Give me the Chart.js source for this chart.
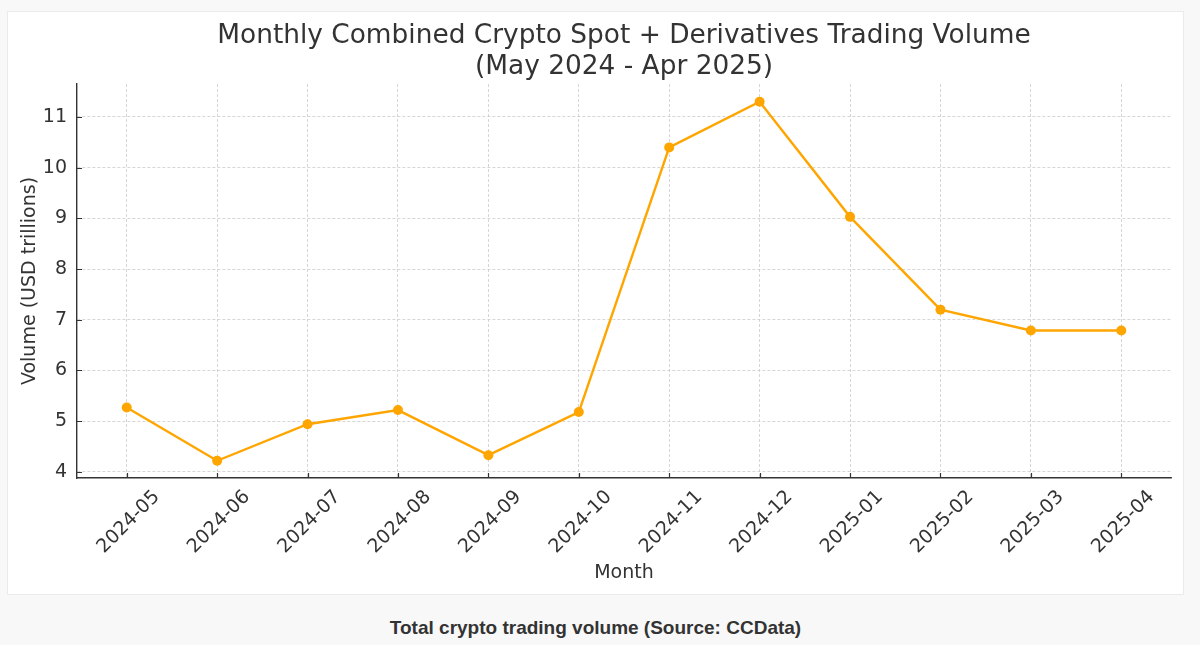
<!DOCTYPE html>
<html>
<head>
<meta charset="utf-8">
<script src="https://cdn.jsdelivr.net/npm/chart.js@4.4.1/dist/chart.umd.min.js"></script>
<style>
  html, body { margin: 0; padding: 0; background: #f8f8f8; }
  body { width: 1200px; height: 645px; position: relative; overflow: hidden; }
  .card {
    position: absolute; left: 7px; top: 11px; width: 1175px; height: 582px;
    background: #fff; border: 1px solid #ebebeb;
  }
  .caption {
    position: absolute; left: 0; top: 617px; width: 1191px; text-align: center;
    font-family: "Liberation Sans", Arial, sans-serif; font-weight: bold;
    font-size: 19px; color: #333;
  }
</style>
</head>
<body>
<div class="card"><canvas id="volumeChart" width="1175" height="582"></canvas></div>
<div class="caption">Total crypto trading volume (Source: CCData)</div>
<script>
const months = ['2024-05', '2024-06', '2024-07', '2024-08', '2024-09', '2024-10',
                '2024-11', '2024-12', '2025-01', '2025-02', '2025-03', '2025-04'];
const volume = [5.27, 4.22, 4.94, 5.22, 4.33, 5.18, 10.40, 11.30, 9.03, 7.20, 6.79, 6.79];
const yTicks = [4, 5, 6, 7, 8, 9, 10, 11];
const titleLines = ['Monthly Combined Crypto Spot + Derivatives Trading Volume', '(May 2024 - Apr 2025)'];

const FONT = '"DejaVu Sans", sans-serif';
const INK = '#333333';
const ORANGE = '#ffa500';

// matplotlib-style title, centred over the plot area rather than the canvas
const titlePlugin = {
  id: 'plotTitle',
  afterDraw(chart) {
    const { ctx, chartArea } = chart;
    const cx = (chartArea.left + chartArea.right) / 2;
    ctx.save();
    ctx.font = '26.4px ' + FONT;
    ctx.fillStyle = INK;
    ctx.textAlign = 'center';
    ctx.textBaseline = 'middle';
    ctx.fillText(titleLines[0], cx, 24);
    ctx.fillText(titleLines[1], cx, 55);
    ctx.restore();
  }
};

// short inward tick marks on the left and bottom spines
const inwardTicks = {
  id: 'inwardTicks',
  afterDraw(chart) {
    const { ctx, chartArea, scales } = chart;
    ctx.save();
    ctx.strokeStyle = INK;
    ctx.lineWidth = 1.2;
    ctx.beginPath();
    scales.y.ticks.forEach(t => {
      const py = Math.round(scales.y.getPixelForValue(t.value)) + 0.5;
      ctx.moveTo(chartArea.left, py);
      ctx.lineTo(chartArea.left + 5, py);
    });
    scales.x.ticks.forEach(t => {
      const px = Math.round(scales.x.getPixelForValue(t.value)) + 0.5;
      ctx.moveTo(px, chartArea.bottom);
      ctx.lineTo(px, chartArea.bottom - 5);
    });
    ctx.stroke();
    ctx.restore();
  }
};

new Chart(document.getElementById('volumeChart'), {
  type: 'line',
  data: {
    datasets: [{
      data: volume.map((v, i) => ({ x: i, y: v })),
      borderColor: ORANGE,
      backgroundColor: ORANGE,
      borderWidth: 2.4,
      pointRadius: 5,
      pointBorderWidth: 0,
      tension: 0
    }]
  },
  options: {
    responsive: false,
    animation: false,
    devicePixelRatio: 1,
    layout: { padding: { top: 72, right: 12, left: 0, bottom: 0 } },
    plugins: {
      legend: { display: false },
      tooltip: { enabled: false }
    },
    scales: {
      x: {
        type: 'linear',
        min: -0.55,
        max: 11.55,
        afterBuildTicks: scale => { scale.ticks = months.map((m, i) => ({ value: i })); },
        afterFit: scale => { scale.height = 116; },
        grid: { color: '#cccccc', lineWidth: 0.8, drawTicks: false },
        border: { display: true, color: INK, width: 1.4, dash: [3, 2] },
        ticks: {
          autoSkip: false,
          maxRotation: 45,
          minRotation: 45,
          padding: 8,
          labelOffset: 30,
          color: INK,
          font: { family: FONT, size: 19 },
          callback: v => months[v]
        },
        title: {
          display: true,
          text: 'Month',
          color: INK,
          font: { family: FONT, size: 19 },
          padding: { top: 0, bottom: 10 }
        }
      },
      y: {
        min: 3.88,
        max: 11.65,
        afterBuildTicks: scale => { scale.ticks = yTicks.map(v => ({ value: v })); },
        afterFit: scale => { scale.width = 69; },
        grid: { color: '#cccccc', lineWidth: 0.8, drawTicks: false },
        border: { display: true, color: INK, width: 1.4, dash: [3, 2] },
        ticks: {
          padding: 10,
          color: INK,
          font: { family: FONT, size: 19 },
          callback: v => String(v)
        },
        title: {
          display: true,
          text: 'Volume (USD trillions)',
          color: INK,
          font: { family: FONT, size: 19 },
          padding: { top: 11, bottom: 0 }
        }
      }
    }
  },
  plugins: [titlePlugin, inwardTicks]
});
</script>
</body>
</html>
